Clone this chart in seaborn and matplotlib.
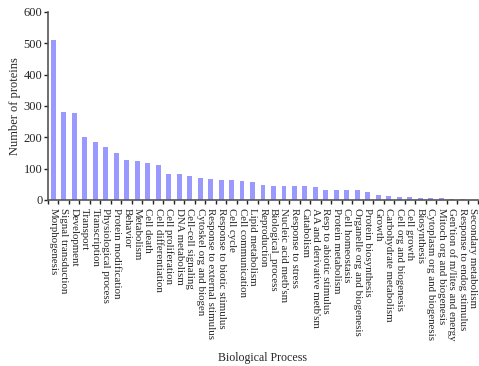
import numpy as np
import pandas as pd
import matplotlib
matplotlib.use("Agg")
import matplotlib.pyplot as plt
import seaborn as sns

categories = [
    "Morphogenesis", "Signal transduction", "Development", "Transport",
    "Transcription", "Physiological process", "Protein modification",
    "Behavior", "Metabolism", "Cell death", "Cell differentiation",
    "Cell proliferation", "DNA metabolism", "Cell-cell signaling",
    "Cytoskel org and biogen", "Response to external stimulus",
    "Response to biotic stimulus", "Cell cycle", "Cell communication",
    "Lipid metabolism", "Reproduction", "Biological_process",
    "Nucleic acid metb'sm", "Response to stress", "Catabolism",
    "AA and derivative metb'sm", "Resp to abiotic stimulus",
    "Protein metabolism", "Cell homeostasis", "Organelle org and biogenesis",
    "Protein biosynthesis", "Growth", "Carbohydrate metabolism",
    "Cell org and biogenesis", "Cell growth", "Biosynthesis",
    "Cytoplasm org and biogenesis", "Mitoch org and biogenesis",
    "Gen'tion of m/lites and energy", "Response to endog stimulus",
    "Secondary metabolism",
]
counts = [
    510, 281, 278, 201, 185, 169, 150, 128, 125, 118, 112,
    83, 83, 77, 70, 67, 64, 64, 61, 57, 48, 45, 45, 45, 45,
    41, 32, 32, 32, 32, 25, 15, 12, 9, 9, 5, 5, 5, 2, 2, 1,
]
y_ticks = [0, 100, 200, 300, 400, 500, 600]

sns.set_style("ticks")
plt.rcParams["font.family"] = ["Liberation Serif", "DejaVu Serif"]

df = pd.DataFrame({"process": categories, "n": counts})

W, H = 479, 366
fig = plt.figure(figsize=(W / 100, H / 100), dpi=100)
ax = fig.add_axes([48 / W, 166 / H, 430 / W, 188 / H])

sns.barplot(data=df, x="process", y="n", color="#9999FF", saturation=1,
            width=0.47, linewidth=0, ax=ax)

ax.set_xlim(-0.5, len(categories) - 0.5)
ax.set_ylim(0, 600)
ax.set_yticks(y_ticks)
ax.set_yticklabels([str(v) for v in y_ticks], fontsize=9)

# category labels at bar centres, tick marks on category boundaries
ax.set_xticks(np.arange(len(categories)))
ax.set_xticklabels(categories, rotation=270, ha="center", va="top", fontsize=7.8)
ax.tick_params(axis="x", which="major", length=0, pad=6)
ax.set_xticks(np.arange(-0.5, len(categories), 1), minor=True)
ax.tick_params(axis="x", which="minor", length=3, width=1, color="#222222")
ax.tick_params(axis="y", length=3, width=1, color="#222222", pad=1)

for side in ("top", "right"):
    ax.spines[side].set_visible(False)
for side in ("left", "bottom"):
    ax.spines[side].set_color("#555555")
    ax.spines[side].set_linewidth(1.2)

ax.set_ylabel("Number of proteins", fontsize=9, labelpad=2)
ax.set_xlabel("")
fig.text(263 / W, 8 / H, "Biological Process", fontsize=8.6,
         ha="center", va="center")

fig.savefig("out.png", dpi=100)
